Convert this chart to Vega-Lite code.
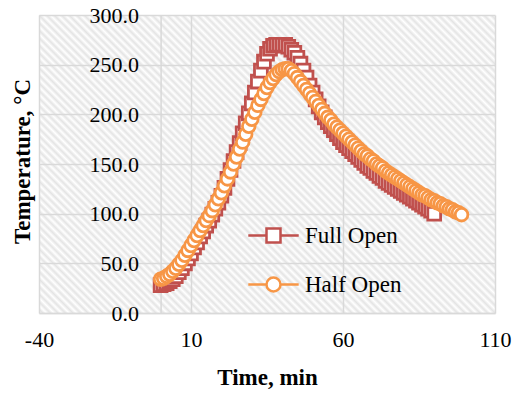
{
"$schema":"https://vega.github.io/schema/vega-lite/v6.json",
"width":456,"height":298,
"autosize":"none",
"padding":{"left":39,"top":15,"right":19,"bottom":81},
"background":"white",
"view":{"stroke":null,"fill":{"gradient":"linear","x1":0,"y1":1,"x2":1.1587,"y2":0.2428,"stops":[
{"offset":0,"color":"#fff"},{"offset":0.005,"color":"#e4e4e4"},{"offset":0.01,"color":"#fff"},{"offset":0.015,"color":"#e4e4e4"},{"offset":0.02,"color":"#fff"},{"offset":0.025,"color":"#e4e4e4"},{"offset":0.03,"color":"#fff"},{"offset":0.035,"color":"#e4e4e4"},{"offset":0.04,"color":"#fff"},{"offset":0.045,"color":"#e4e4e4"},
{"offset":0.05,"color":"#fff"},{"offset":0.055,"color":"#e4e4e4"},{"offset":0.06,"color":"#fff"},{"offset":0.065,"color":"#e4e4e4"},{"offset":0.07,"color":"#fff"},{"offset":0.075,"color":"#e4e4e4"},{"offset":0.08,"color":"#fff"},{"offset":0.085,"color":"#e4e4e4"},{"offset":0.09,"color":"#fff"},{"offset":0.095,"color":"#e4e4e4"},
{"offset":0.1,"color":"#fff"},{"offset":0.105,"color":"#e4e4e4"},{"offset":0.11,"color":"#fff"},{"offset":0.115,"color":"#e4e4e4"},{"offset":0.12,"color":"#fff"},{"offset":0.125,"color":"#e4e4e4"},{"offset":0.13,"color":"#fff"},{"offset":0.135,"color":"#e4e4e4"},{"offset":0.14,"color":"#fff"},{"offset":0.145,"color":"#e4e4e4"},
{"offset":0.15,"color":"#fff"},{"offset":0.155,"color":"#e4e4e4"},{"offset":0.16,"color":"#fff"},{"offset":0.165,"color":"#e4e4e4"},{"offset":0.17,"color":"#fff"},{"offset":0.175,"color":"#e4e4e4"},{"offset":0.18,"color":"#fff"},{"offset":0.185,"color":"#e4e4e4"},{"offset":0.19,"color":"#fff"},{"offset":0.195,"color":"#e4e4e4"},
{"offset":0.2,"color":"#fff"},{"offset":0.205,"color":"#e4e4e4"},{"offset":0.21,"color":"#fff"},{"offset":0.215,"color":"#e4e4e4"},{"offset":0.22,"color":"#fff"},{"offset":0.225,"color":"#e4e4e4"},{"offset":0.23,"color":"#fff"},{"offset":0.235,"color":"#e4e4e4"},{"offset":0.24,"color":"#fff"},{"offset":0.245,"color":"#e4e4e4"},
{"offset":0.25,"color":"#fff"},{"offset":0.255,"color":"#e4e4e4"},{"offset":0.26,"color":"#fff"},{"offset":0.265,"color":"#e4e4e4"},{"offset":0.27,"color":"#fff"},{"offset":0.275,"color":"#e4e4e4"},{"offset":0.28,"color":"#fff"},{"offset":0.285,"color":"#e4e4e4"},{"offset":0.29,"color":"#fff"},{"offset":0.295,"color":"#e4e4e4"},
{"offset":0.3,"color":"#fff"},{"offset":0.305,"color":"#e4e4e4"},{"offset":0.31,"color":"#fff"},{"offset":0.315,"color":"#e4e4e4"},{"offset":0.32,"color":"#fff"},{"offset":0.325,"color":"#e4e4e4"},{"offset":0.33,"color":"#fff"},{"offset":0.335,"color":"#e4e4e4"},{"offset":0.34,"color":"#fff"},{"offset":0.345,"color":"#e4e4e4"},
{"offset":0.35,"color":"#fff"},{"offset":0.355,"color":"#e4e4e4"},{"offset":0.36,"color":"#fff"},{"offset":0.365,"color":"#e4e4e4"},{"offset":0.37,"color":"#fff"},{"offset":0.375,"color":"#e4e4e4"},{"offset":0.38,"color":"#fff"},{"offset":0.385,"color":"#e4e4e4"},{"offset":0.39,"color":"#fff"},{"offset":0.395,"color":"#e4e4e4"},
{"offset":0.4,"color":"#fff"},{"offset":0.405,"color":"#e4e4e4"},{"offset":0.41,"color":"#fff"},{"offset":0.415,"color":"#e4e4e4"},{"offset":0.42,"color":"#fff"},{"offset":0.425,"color":"#e4e4e4"},{"offset":0.43,"color":"#fff"},{"offset":0.435,"color":"#e4e4e4"},{"offset":0.44,"color":"#fff"},{"offset":0.445,"color":"#e4e4e4"},
{"offset":0.45,"color":"#fff"},{"offset":0.455,"color":"#e4e4e4"},{"offset":0.46,"color":"#fff"},{"offset":0.465,"color":"#e4e4e4"},{"offset":0.47,"color":"#fff"},{"offset":0.475,"color":"#e4e4e4"},{"offset":0.48,"color":"#fff"},{"offset":0.485,"color":"#e4e4e4"},{"offset":0.49,"color":"#fff"},{"offset":0.495,"color":"#e4e4e4"},
{"offset":0.5,"color":"#fff"},{"offset":0.505,"color":"#e4e4e4"},{"offset":0.51,"color":"#fff"},{"offset":0.515,"color":"#e4e4e4"},{"offset":0.52,"color":"#fff"},{"offset":0.525,"color":"#e4e4e4"},{"offset":0.53,"color":"#fff"},{"offset":0.535,"color":"#e4e4e4"},{"offset":0.54,"color":"#fff"},{"offset":0.545,"color":"#e4e4e4"},
{"offset":0.55,"color":"#fff"},{"offset":0.555,"color":"#e4e4e4"},{"offset":0.56,"color":"#fff"},{"offset":0.565,"color":"#e4e4e4"},{"offset":0.57,"color":"#fff"},{"offset":0.575,"color":"#e4e4e4"},{"offset":0.58,"color":"#fff"},{"offset":0.585,"color":"#e4e4e4"},{"offset":0.59,"color":"#fff"},{"offset":0.595,"color":"#e4e4e4"},
{"offset":0.6,"color":"#fff"},{"offset":0.605,"color":"#e4e4e4"},{"offset":0.61,"color":"#fff"},{"offset":0.615,"color":"#e4e4e4"},{"offset":0.62,"color":"#fff"},{"offset":0.625,"color":"#e4e4e4"},{"offset":0.63,"color":"#fff"},{"offset":0.635,"color":"#e4e4e4"},{"offset":0.64,"color":"#fff"},{"offset":0.645,"color":"#e4e4e4"},
{"offset":0.65,"color":"#fff"},{"offset":0.655,"color":"#e4e4e4"},{"offset":0.66,"color":"#fff"},{"offset":0.665,"color":"#e4e4e4"},{"offset":0.67,"color":"#fff"},{"offset":0.675,"color":"#e4e4e4"},{"offset":0.68,"color":"#fff"},{"offset":0.685,"color":"#e4e4e4"},{"offset":0.69,"color":"#fff"},{"offset":0.695,"color":"#e4e4e4"},
{"offset":0.7,"color":"#fff"},{"offset":0.705,"color":"#e4e4e4"},{"offset":0.71,"color":"#fff"},{"offset":0.715,"color":"#e4e4e4"},{"offset":0.72,"color":"#fff"},{"offset":0.725,"color":"#e4e4e4"},{"offset":0.73,"color":"#fff"},{"offset":0.735,"color":"#e4e4e4"},{"offset":0.74,"color":"#fff"},{"offset":0.745,"color":"#e4e4e4"},
{"offset":0.75,"color":"#fff"},{"offset":0.755,"color":"#e4e4e4"},{"offset":0.76,"color":"#fff"},{"offset":0.765,"color":"#e4e4e4"},{"offset":0.77,"color":"#fff"},{"offset":0.775,"color":"#e4e4e4"},{"offset":0.78,"color":"#fff"},{"offset":0.785,"color":"#e4e4e4"},{"offset":0.79,"color":"#fff"},{"offset":0.795,"color":"#e4e4e4"},
{"offset":0.8,"color":"#fff"},{"offset":0.805,"color":"#e4e4e4"},{"offset":0.81,"color":"#fff"},{"offset":0.815,"color":"#e4e4e4"},{"offset":0.82,"color":"#fff"},{"offset":0.825,"color":"#e4e4e4"},{"offset":0.83,"color":"#fff"},{"offset":0.835,"color":"#e4e4e4"},{"offset":0.84,"color":"#fff"},{"offset":0.845,"color":"#e4e4e4"},
{"offset":0.85,"color":"#fff"},{"offset":0.855,"color":"#e4e4e4"},{"offset":0.86,"color":"#fff"},{"offset":0.865,"color":"#e4e4e4"},{"offset":0.87,"color":"#fff"},{"offset":0.875,"color":"#e4e4e4"},{"offset":0.88,"color":"#fff"},{"offset":0.885,"color":"#e4e4e4"},{"offset":0.89,"color":"#fff"},{"offset":0.895,"color":"#e4e4e4"},
{"offset":0.9,"color":"#fff"},{"offset":0.905,"color":"#e4e4e4"},{"offset":0.91,"color":"#fff"},{"offset":0.915,"color":"#e4e4e4"},{"offset":0.92,"color":"#fff"},{"offset":0.925,"color":"#e4e4e4"},{"offset":0.93,"color":"#fff"},{"offset":0.935,"color":"#e4e4e4"},{"offset":0.94,"color":"#fff"},{"offset":0.945,"color":"#e4e4e4"},
{"offset":0.95,"color":"#fff"},{"offset":0.955,"color":"#e4e4e4"},{"offset":0.96,"color":"#fff"},{"offset":0.965,"color":"#e4e4e4"},{"offset":0.97,"color":"#fff"},{"offset":0.975,"color":"#e4e4e4"},{"offset":0.98,"color":"#fff"},{"offset":0.985,"color":"#e4e4e4"},{"offset":0.99,"color":"#fff"},{"offset":0.995,"color":"#e4e4e4"},
{"offset":1,"color":"#fff"}]}},
"config":{
 "font":"Liberation Serif",
 "axis":{"labelFont":"Liberation Serif","titleFont":"Liberation Serif","labelFontSize":22,"titleFontSize":23,"titleFontWeight":"bold","labelColor":"black","titleColor":"black","gridColor":"#d9d9d9","gridWidth":1.5,"domainColor":"#d9d9d9","domainWidth":1.5,"ticks":false},
 "legend":{"title":null,"orient":"none","padding":0,"symbolSize":196,"symbolStrokeWidth":2.5,"symbolFillColor":"white","labelFont":"Liberation Serif","labelFontSize":23,"labelColor":"black","labelOffset":20,"rowPadding":26}
},
"data":{"values":[
{"series":"Full Open","time":0,"temp":28},{"series":"Full Open","time":1,"temp":29},{"series":"Full Open","time":2,"temp":30},{"series":"Full Open","time":3,"temp":32},{"series":"Full Open","time":4,"temp":34},{"series":"Full Open","time":5,"temp":37},{"series":"Full Open","time":6,"temp":41},{"series":"Full Open","time":7,"temp":45},{"series":"Full Open","time":8,"temp":50},{"series":"Full Open","time":9,"temp":55},
{"series":"Full Open","time":10,"temp":60},{"series":"Full Open","time":11,"temp":66},{"series":"Full Open","time":12,"temp":71},{"series":"Full Open","time":13,"temp":77},{"series":"Full Open","time":14,"temp":82},{"series":"Full Open","time":15,"temp":88},{"series":"Full Open","time":16,"temp":93},{"series":"Full Open","time":17,"temp":99},{"series":"Full Open","time":18,"temp":105},{"series":"Full Open","time":19,"temp":111},
{"series":"Full Open","time":20,"temp":118},{"series":"Full Open","time":21,"temp":126},{"series":"Full Open","time":22,"temp":135},{"series":"Full Open","time":23,"temp":144},{"series":"Full Open","time":24,"temp":153},{"series":"Full Open","time":25,"temp":162},{"series":"Full Open","time":26,"temp":171},{"series":"Full Open","time":27,"temp":181},{"series":"Full Open","time":28,"temp":191},{"series":"Full Open","time":29,"temp":201},
{"series":"Full Open","time":30,"temp":211},{"series":"Full Open","time":31,"temp":222},{"series":"Full Open","time":32,"temp":233},{"series":"Full Open","time":33,"temp":244},{"series":"Full Open","time":34,"temp":253},{"series":"Full Open","time":35,"temp":261},{"series":"Full Open","time":36,"temp":266},{"series":"Full Open","time":37,"temp":269},{"series":"Full Open","time":38,"temp":270},{"series":"Full Open","time":39,"temp":270},
{"series":"Full Open","time":40,"temp":270},{"series":"Full Open","time":41,"temp":270},{"series":"Full Open","time":42,"temp":268},{"series":"Full Open","time":43,"temp":265},{"series":"Full Open","time":44,"temp":262},{"series":"Full Open","time":45,"temp":257},{"series":"Full Open","time":46,"temp":251},{"series":"Full Open","time":47,"temp":244},{"series":"Full Open","time":48,"temp":237},{"series":"Full Open","time":49,"temp":229},
{"series":"Full Open","time":50,"temp":222},{"series":"Full Open","time":51,"temp":215},{"series":"Full Open","time":52,"temp":208},{"series":"Full Open","time":53,"temp":202},{"series":"Full Open","time":54,"temp":197},{"series":"Full Open","time":55,"temp":192},{"series":"Full Open","time":56,"temp":188},{"series":"Full Open","time":57,"temp":184},{"series":"Full Open","time":58,"temp":180},{"series":"Full Open","time":59,"temp":176},
{"series":"Full Open","time":60,"temp":172},{"series":"Full Open","time":61,"temp":169},{"series":"Full Open","time":62,"temp":166},{"series":"Full Open","time":63,"temp":163},{"series":"Full Open","time":64,"temp":160},{"series":"Full Open","time":65,"temp":157},{"series":"Full Open","time":66,"temp":154},{"series":"Full Open","time":67,"temp":151},{"series":"Full Open","time":68,"temp":148},{"series":"Full Open","time":69,"temp":146},
{"series":"Full Open","time":70,"temp":143},{"series":"Full Open","time":71,"temp":141},{"series":"Full Open","time":72,"temp":138},{"series":"Full Open","time":73,"temp":136},{"series":"Full Open","time":74,"temp":133},{"series":"Full Open","time":75,"temp":131},{"series":"Full Open","time":76,"temp":129},{"series":"Full Open","time":77,"temp":127},{"series":"Full Open","time":78,"temp":125},{"series":"Full Open","time":79,"temp":123},
{"series":"Full Open","time":80,"temp":121},{"series":"Full Open","time":81,"temp":119},{"series":"Full Open","time":82,"temp":117},{"series":"Full Open","time":83,"temp":115},{"series":"Full Open","time":84,"temp":113},{"series":"Full Open","time":85,"temp":111},{"series":"Full Open","time":86,"temp":109},{"series":"Full Open","time":87,"temp":107},{"series":"Full Open","time":88,"temp":105},{"series":"Full Open","time":89,"temp":103},
{"series":"Full Open","time":90,"temp":100},
{"series":"Half Open","time":0,"temp":34},{"series":"Half Open","time":1,"temp":35},{"series":"Half Open","time":2,"temp":37},{"series":"Half Open","time":3,"temp":39},{"series":"Half Open","time":4,"temp":42},{"series":"Half Open","time":5,"temp":45},{"series":"Half Open","time":6,"temp":49},{"series":"Half Open","time":7,"temp":53},{"series":"Half Open","time":8,"temp":58},{"series":"Half Open","time":9,"temp":63},
{"series":"Half Open","time":10,"temp":68},{"series":"Half Open","time":11,"temp":73},{"series":"Half Open","time":12,"temp":78},{"series":"Half Open","time":13,"temp":83},{"series":"Half Open","time":14,"temp":88},{"series":"Half Open","time":15,"temp":93},{"series":"Half Open","time":16,"temp":98},{"series":"Half Open","time":17,"temp":103},{"series":"Half Open","time":18,"temp":109},{"series":"Half Open","time":19,"temp":115},
{"series":"Half Open","time":20,"temp":121},{"series":"Half Open","time":21,"temp":128},{"series":"Half Open","time":22,"temp":135},{"series":"Half Open","time":23,"temp":142},{"series":"Half Open","time":24,"temp":150},{"series":"Half Open","time":25,"temp":157},{"series":"Half Open","time":26,"temp":165},{"series":"Half Open","time":27,"temp":172},{"series":"Half Open","time":28,"temp":180},{"series":"Half Open","time":29,"temp":188},
{"series":"Half Open","time":30,"temp":195},{"series":"Half Open","time":31,"temp":202},{"series":"Half Open","time":32,"temp":209},{"series":"Half Open","time":33,"temp":215},{"series":"Half Open","time":34,"temp":221},{"series":"Half Open","time":35,"temp":227},{"series":"Half Open","time":36,"temp":232},{"series":"Half Open","time":37,"temp":236},{"series":"Half Open","time":38,"temp":240},{"series":"Half Open","time":39,"temp":243},
{"series":"Half Open","time":40,"temp":245},{"series":"Half Open","time":41,"temp":246},{"series":"Half Open","time":42,"temp":246},{"series":"Half Open","time":43,"temp":244},{"series":"Half Open","time":44,"temp":241},{"series":"Half Open","time":45,"temp":237},{"series":"Half Open","time":46,"temp":233},{"series":"Half Open","time":47,"temp":229},{"series":"Half Open","time":48,"temp":225},{"series":"Half Open","time":49,"temp":221},
{"series":"Half Open","time":50,"temp":217},{"series":"Half Open","time":51,"temp":213},{"series":"Half Open","time":52,"temp":209},{"series":"Half Open","time":53,"temp":205},{"series":"Half Open","time":54,"temp":201},{"series":"Half Open","time":55,"temp":197},{"series":"Half Open","time":56,"temp":194},{"series":"Half Open","time":57,"temp":190},{"series":"Half Open","time":58,"temp":187},{"series":"Half Open","time":59,"temp":184},
{"series":"Half Open","time":60,"temp":181},{"series":"Half Open","time":61,"temp":178},{"series":"Half Open","time":62,"temp":175},{"series":"Half Open","time":63,"temp":172},{"series":"Half Open","time":64,"temp":169},{"series":"Half Open","time":65,"temp":166},{"series":"Half Open","time":66,"temp":163},{"series":"Half Open","time":67,"temp":160},{"series":"Half Open","time":68,"temp":158},{"series":"Half Open","time":69,"temp":155},
{"series":"Half Open","time":70,"temp":153},{"series":"Half Open","time":71,"temp":150},{"series":"Half Open","time":72,"temp":148},{"series":"Half Open","time":73,"temp":146},{"series":"Half Open","time":74,"temp":143},{"series":"Half Open","time":75,"temp":141},{"series":"Half Open","time":76,"temp":139},{"series":"Half Open","time":77,"temp":137},{"series":"Half Open","time":78,"temp":135},{"series":"Half Open","time":79,"temp":133},
{"series":"Half Open","time":80,"temp":131},{"series":"Half Open","time":81,"temp":129},{"series":"Half Open","time":82,"temp":127},{"series":"Half Open","time":83,"temp":125},{"series":"Half Open","time":84,"temp":123},{"series":"Half Open","time":85,"temp":121},{"series":"Half Open","time":86,"temp":119},{"series":"Half Open","time":87,"temp":118},{"series":"Half Open","time":88,"temp":116},{"series":"Half Open","time":89,"temp":114},
{"series":"Half Open","time":90,"temp":113},{"series":"Half Open","time":91,"temp":111},{"series":"Half Open","time":92,"temp":110},{"series":"Half Open","time":93,"temp":108},{"series":"Half Open","time":94,"temp":107},{"series":"Half Open","time":95,"temp":105},{"series":"Half Open","time":96,"temp":104},{"series":"Half Open","time":97,"temp":102},{"series":"Half Open","time":98,"temp":101},{"series":"Half Open","time":99,"temp":99}
]},
"encoding":{
 "x":{"field":"time","type":"quantitative","scale":{"domain":[-40,110],"nice":false,"zero":false},
   "axis":{"values":[-40,10,60,110],"labelExpr":"'' + datum.value","labelPadding":16,"labelFlush":false,"labelOverlap":false,"title":"Time, min","titleX":228,"titleY":71.7,"titleBaseline":"alphabetic","titleAlign":"center","grid":true,"domain":true}},
 "y":{"field":"temp","type":"quantitative","scale":{"domain":[0,300],"nice":false},
   "axis":{"values":[0,50,100,150,200,250,300],"format":".1f","offset":-121.6,"labelPadding":22,"title":"Temperature, °C","titleX":-131.6,"titleY":146,"titleAngle":-90,"titleAlign":"center","titleBaseline":"alphabetic","grid":true,"domain":true}}
},
"layer":[
 {"transform":[{"filter":"datum.series === 'Full Open'"}],
  "mark":{"type":"point","shape":"square","filled":false,"fill":"white","strokeWidth":2.8,"opacity":1,"size":165},
  "encoding":{"stroke":{"field":"series","type":"nominal","scale":{"domain":["Full Open"],"range":["#C0504D"]},
    "legend":{"legendX":223,"legendY":209,"symbolType":"M-3.6,0H-1M1,0H3.6M-1,-1H1V1H-1Z"}}}},
 {"transform":[{"filter":"datum.series === 'Half Open'"}],
  "mark":{"type":"point","shape":"circle","filled":false,"fill":"white","strokeWidth":2.8,"opacity":1,"size":160},
  "encoding":{"color":{"field":"series","type":"nominal","scale":{"domain":["Half Open"],"range":["#F79646"]},
    "legend":{"legendX":223,"legendY":258,"symbolType":"M-3.6,0H-1M1,0H3.6M-1,0A1,1 0 1,1 1,0A1,1 0 1,1 -1,0Z"}}}}
]
}
